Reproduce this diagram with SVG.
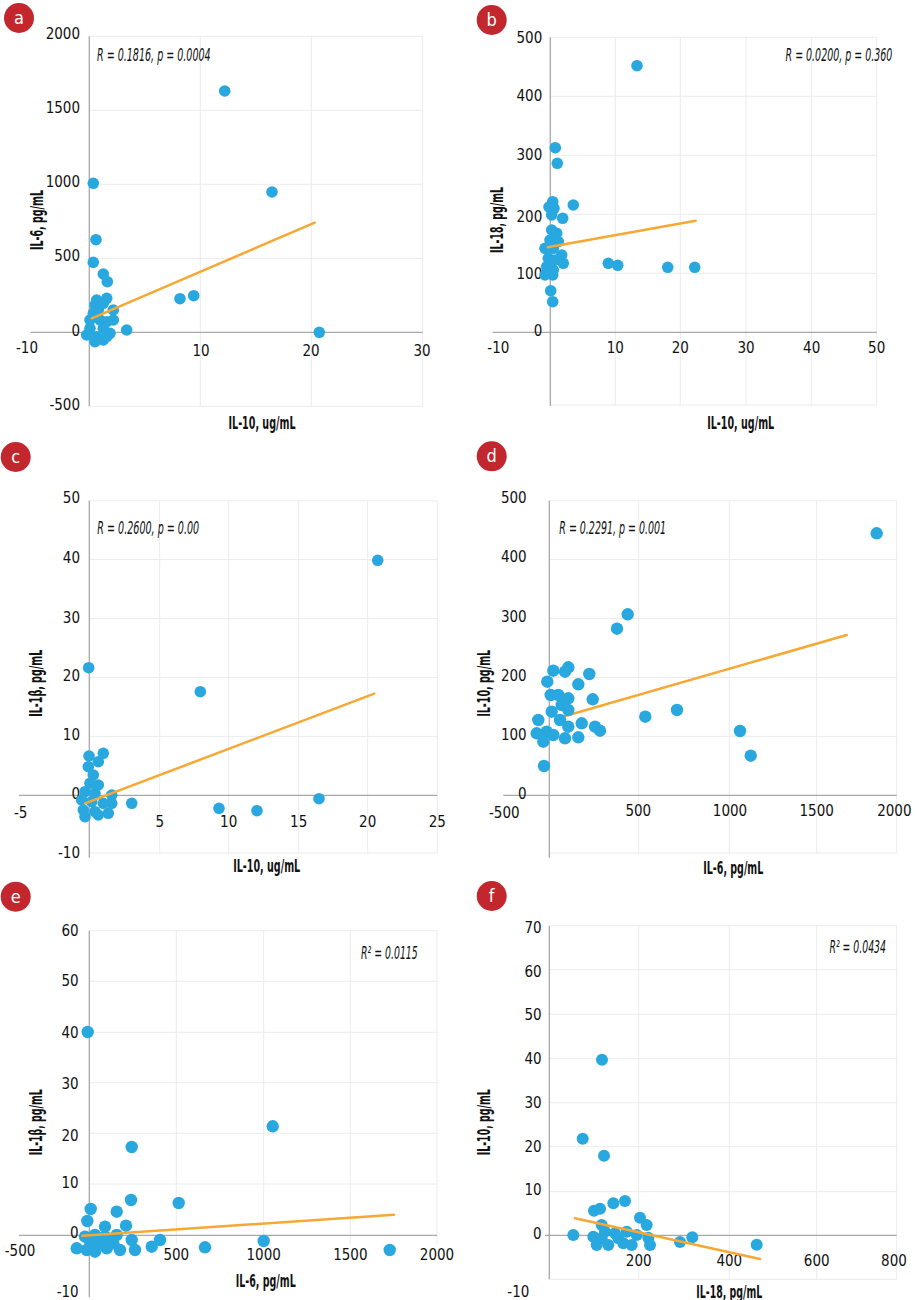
<svg xmlns="http://www.w3.org/2000/svg" width="919" height="1300" viewBox="0 0 919 1300">
<style>
text{font-family:'Liberation Sans Narrow','DejaVu Sans Condensed','Liberation Sans',sans-serif;fill:#111}
.ty{font-size:15px;text-anchor:end}
.tx{font-size:15px;text-anchor:middle}
.grid{stroke:#ececec;stroke-width:1;fill:none}
.axis{stroke:#a8a8a8;stroke-width:1.3;fill:none}
.trend{stroke:#F7A833;stroke-width:2.5;fill:none;stroke-linecap:round}
.dots circle{fill:#29A8E0}
.title{font-size:17px;font-weight:bold;text-anchor:middle}
.note{font-size:17px;font-style:italic}
.badge{fill:#C1272D}
.bl{fill:#fff;font-size:18px;text-anchor:middle}
</style>

<!-- Panel a -->
<g id="panel-a">
<circle class="badge" cx="19" cy="18" r="15"/><text class="bl" x="19" y="24">a</text>
<path class="grid" d="M89.3 36.3H422.7M89.3 110.3H422.7M89.3 184.3H422.7M89.3 258.3H422.7M89.3 406.3H422.7M200.3 36.3V406.3M311.3 36.3V406.3M422.7 36.3V406.3"/>
<path class="axis" d="M89.3 36.3V406.3M30.7 332.3H422.7"/>
<text class="ty" x="80" y="39">2000</text><text class="ty" x="80" y="113">1500</text><text class="ty" x="80" y="187">1000</text><text class="ty" x="80" y="261">500</text><text class="ty" x="80" y="336">0</text><text class="ty" x="80" y="410">-500</text>
<text class="tx" x="27" y="353">-10</text><text class="tx" x="201" y="356">10</text><text class="tx" x="311" y="356">20</text><text class="tx" x="422" y="356">30</text>
<text class="title" x="262" y="429" textLength="67" lengthAdjust="spacingAndGlyphs">IL-10, ug/mL</text>
<text class="title" transform="translate(37,220) rotate(-90)" x="0" y="5.5" textLength="60" lengthAdjust="spacingAndGlyphs">IL-6, pg/mL</text>
<text class="note" transform="translate(97,61) scale(0.625,1)">R = 0.1816, p = 0.0004</text>
<g class="dots">
<circle cx="224.7" cy="91" r="5.8"/><circle cx="93.3" cy="183.3" r="5.8"/><circle cx="272" cy="192" r="5.8"/><circle cx="96" cy="239.7" r="5.8"/><circle cx="93.3" cy="262.3" r="5.8"/><circle cx="103.3" cy="274" r="5.8"/><circle cx="107.3" cy="281.7" r="5.8"/><circle cx="180" cy="298.7" r="5.8"/><circle cx="193.7" cy="295.7" r="5.8"/><circle cx="96.7" cy="300" r="5.8"/><circle cx="106.7" cy="298.3" r="5.8"/><circle cx="95" cy="305" r="5.8"/><circle cx="113.3" cy="310" r="5.8"/><circle cx="98.3" cy="310" r="5.8"/><circle cx="103.3" cy="303.3" r="5.8"/><circle cx="93.3" cy="313.3" r="5.8"/><circle cx="90" cy="320" r="5.8"/><circle cx="100" cy="320" r="5.8"/><circle cx="106.7" cy="321.7" r="5.8"/><circle cx="113.3" cy="320" r="5.8"/><circle cx="90" cy="328.3" r="5.8"/><circle cx="103.3" cy="328.3" r="5.8"/><circle cx="126.7" cy="330" r="5.8"/><circle cx="86.7" cy="335" r="5.8"/><circle cx="96.7" cy="336.7" r="5.8"/><circle cx="106.7" cy="336.7" r="5.8"/><circle cx="90" cy="333.3" r="5.8"/><circle cx="110" cy="333.3" r="5.8"/><circle cx="95" cy="341.7" r="5.8"/><circle cx="103.3" cy="340" r="5.8"/><circle cx="319.3" cy="332.3" r="5.8"/>
</g>
<line class="trend" x1="91.7" y1="318.3" x2="314.7" y2="222.7"/>
</g>

<!-- Panel b -->
<g id="panel-b">
<circle class="badge" cx="491.7" cy="20" r="15"/><text class="bl" x="491.7" y="26">b</text>
<path class="grid" d="M550.3 37.3H876.7M550.3 96.3H876.7M550.3 155.3H876.7M550.3 214.3H876.7M550.3 273.3H876.7M550.3 405H876.7M615.3 37.3V405M680.3 37.3V405M746 37.3V405M811.7 37.3V405M876.7 37.3V405"/>
<path class="axis" d="M550.3 37.3V406M492.7 332.3H876.7"/>
<text class="ty" x="542.3" y="43.3">500</text><text class="ty" x="542.3" y="101">400</text><text class="ty" x="542.3" y="160">300</text><text class="ty" x="542.3" y="221.7">200</text><text class="ty" x="542.3" y="279.3">100</text><text class="ty" x="542.3" y="336">0</text>
<text class="tx" x="498.3" y="353.3">-10</text><text class="tx" x="615.3" y="353.3">10</text><text class="tx" x="680.3" y="353.3">20</text><text class="tx" x="746" y="353.3">30</text><text class="tx" x="811.7" y="353.3">40</text><text class="tx" x="876.7" y="353.3">50</text>
<text class="title" x="740.7" y="429" textLength="67" lengthAdjust="spacingAndGlyphs">IL-10, ug/mL</text>
<text class="title" transform="translate(497.3,220) rotate(-90)" x="0" y="5.5" textLength="66" lengthAdjust="spacingAndGlyphs">IL-18, pg/mL</text>
<text class="note" text-anchor="end" transform="translate(892.3,61) scale(0.62,1)">R = 0.0200, p = 0.360</text>
<g class="dots">
<circle cx="637" cy="65.7" r="5.8"/><circle cx="555.3" cy="147.7" r="5.8"/><circle cx="557.3" cy="163.3" r="5.8"/><circle cx="552.7" cy="201.7" r="5.8"/><circle cx="554" cy="208.3" r="5.8"/><circle cx="549" cy="207" r="5.8"/><circle cx="573.3" cy="205" r="5.8"/><circle cx="551.7" cy="215" r="5.8"/><circle cx="562.7" cy="218.3" r="5.8"/><circle cx="551.7" cy="230" r="5.8"/><circle cx="556.7" cy="233.3" r="5.8"/><circle cx="550" cy="240" r="5.8"/><circle cx="558.3" cy="241.7" r="5.8"/><circle cx="545" cy="248.3" r="5.8"/><circle cx="553.3" cy="248.3" r="5.8"/><circle cx="561.7" cy="255" r="5.8"/><circle cx="548.3" cy="258.3" r="5.8"/><circle cx="555" cy="260" r="5.8"/><circle cx="563.3" cy="263.3" r="5.8"/><circle cx="546.7" cy="266.7" r="5.8"/><circle cx="553.3" cy="270" r="5.8"/><circle cx="545" cy="275" r="5.8"/><circle cx="552.7" cy="275" r="5.8"/><circle cx="550.7" cy="290.7" r="5.8"/><circle cx="552.7" cy="301.7" r="5.8"/><circle cx="608.3" cy="263.3" r="5.8"/><circle cx="617.7" cy="265.3" r="5.8"/><circle cx="667.7" cy="267.3" r="5.8"/><circle cx="694.7" cy="267.3" r="5.8"/>
</g>
<line class="trend" x1="547.7" y1="247.3" x2="695.7" y2="220.7"/>
</g>

<!-- Panel c -->
<g id="panel-c">
<circle class="badge" cx="15.7" cy="457" r="15"/><text class="bl" x="15.7" y="463">c</text>
<path class="grid" d="M89.3 500.7H437.3M89.3 559.6H437.3M89.3 618.6H437.3M89.3 677.5H437.3M89.3 736.4H437.3M89.3 853H437.3M159.7 500.7V853M228.7 500.7V853M298.7 500.7V853M367.7 500.7V853M437.3 500.7V853"/>
<path class="axis" d="M89.3 500.7V857.7M19 795.3H437.3"/>
<text class="ty" x="80" y="503.3">50</text><text class="ty" x="80" y="562.7">40</text><text class="ty" x="80" y="622.7">30</text><text class="ty" x="80" y="680.7">20</text><text class="ty" x="80" y="740">10</text><text class="ty" x="80" y="799">0</text><text class="ty" x="80" y="857.7">-10</text>
<text class="tx" x="20.7" y="818.3">-5</text><text class="tx" x="159.7" y="827.3">5</text><text class="tx" x="228.7" y="827.3">10</text><text class="tx" x="298.7" y="827.3">15</text><text class="tx" x="367.7" y="827.3">20</text><text class="tx" x="437.3" y="827.3">25</text>
<text class="title" x="266.7" y="871.5" textLength="67" lengthAdjust="spacingAndGlyphs">IL-10, ug/mL</text>
<text class="title" transform="translate(36.7,683.3) rotate(-90)" x="0" y="5.5" textLength="67" lengthAdjust="spacingAndGlyphs">IL-1β, pg/mL</text>
<text class="note" transform="translate(97.3,534) scale(0.627,1)">R = 0.2600, p = 0.00</text>
<g class="dots">
<circle cx="377.7" cy="560.3" r="5.8"/><circle cx="88.7" cy="667.7" r="5.8"/><circle cx="200.3" cy="691.7" r="5.8"/><circle cx="103.3" cy="753.3" r="5.8"/><circle cx="89" cy="756" r="5.8"/><circle cx="98.3" cy="761.7" r="5.8"/><circle cx="88.3" cy="766.7" r="5.8"/><circle cx="93.3" cy="775" r="5.8"/><circle cx="90" cy="783.3" r="5.8"/><circle cx="98.3" cy="785" r="5.8"/><circle cx="85" cy="791.7" r="5.8"/><circle cx="95" cy="793.3" r="5.8"/><circle cx="111.7" cy="795" r="5.8"/><circle cx="81.7" cy="800" r="5.8"/><circle cx="91.7" cy="801.7" r="5.8"/><circle cx="103.3" cy="803.3" r="5.8"/><circle cx="111.7" cy="803.3" r="5.8"/><circle cx="131.7" cy="803.3" r="5.8"/><circle cx="83.3" cy="810" r="5.8"/><circle cx="95" cy="811.7" r="5.8"/><circle cx="108.3" cy="813.3" r="5.8"/><circle cx="85" cy="816.7" r="5.8"/><circle cx="98.3" cy="815" r="5.8"/><circle cx="219" cy="808.3" r="5.8"/><circle cx="257" cy="810.7" r="5.8"/><circle cx="319" cy="798.7" r="5.8"/>
</g>
<line class="trend" x1="85" y1="803.3" x2="374.3" y2="693.7"/>
</g>

<!-- Panel d -->
<g id="panel-d">
<circle class="badge" cx="491.7" cy="456.3" r="15"/><text class="bl" x="491.7" y="462.3">d</text>
<path class="grid" d="M549.3 500.7H896.7M549.3 559.6H896.7M549.3 618.6H896.7M549.3 677.5H896.7M549.3 736.4H896.7M549.3 853H896.7M638.7 500.7V853M729.3 500.7V853M816.7 500.7V853M896.7 500.7V853"/>
<path class="axis" d="M549.3 500.7V857.7M503.3 795.3H896.7"/>
<text class="ty" x="526.7" y="503.3">500</text><text class="ty" x="526.7" y="562">400</text><text class="ty" x="526.7" y="621.7">300</text><text class="ty" x="526.7" y="680.7">200</text><text class="ty" x="526.7" y="740">100</text><text class="ty" x="526.7" y="799">0</text>
<text class="tx" x="504.3" y="817.7">-500</text><text class="tx" x="638.3" y="815.7">500</text><text class="tx" x="730" y="815.7">1000</text><text class="tx" x="816.7" y="815.7">1500</text><text class="tx" x="894.3" y="815.7">2000</text>
<text class="title" x="733.3" y="873.5" textLength="60" lengthAdjust="spacingAndGlyphs">IL-6, pg/mL</text>
<text class="title" transform="translate(484,683.3) rotate(-90)" x="0" y="5.5" textLength="67" lengthAdjust="spacingAndGlyphs">IL-10, pg/mL</text>
<text class="note" transform="translate(559.3,534) scale(0.62,1)">R = 0.2291, p = 0.001</text>
<line class="trend" x1="560" y1="717.5" x2="846.7" y2="635"/>
<g class="dots">
<circle cx="876.7" cy="533.3" r="6.2"/><circle cx="627.7" cy="614.3" r="6.2"/><circle cx="617" cy="628.7" r="6.2"/><circle cx="553.3" cy="670.7" r="6.2"/><circle cx="568.3" cy="667.3" r="6.2"/><circle cx="565" cy="671.7" r="6.2"/><circle cx="589.3" cy="674" r="6.2"/><circle cx="547.3" cy="681.7" r="6.2"/><circle cx="578.3" cy="684.3" r="6.2"/><circle cx="550.7" cy="695" r="6.2"/><circle cx="558.3" cy="695" r="6.2"/><circle cx="568.3" cy="698.3" r="6.2"/><circle cx="592.7" cy="699.3" r="6.2"/><circle cx="561.7" cy="705" r="6.2"/><circle cx="568.3" cy="710" r="6.2"/><circle cx="551.7" cy="711.7" r="6.2"/><circle cx="538.3" cy="720" r="6.2"/><circle cx="560" cy="720" r="6.2"/><circle cx="581.7" cy="723.3" r="6.2"/><circle cx="595" cy="726.7" r="6.2"/><circle cx="600" cy="730.7" r="6.2"/><circle cx="568.3" cy="726.7" r="6.2"/><circle cx="536.7" cy="733.3" r="6.2"/><circle cx="546.7" cy="731.7" r="6.2"/><circle cx="553.3" cy="735" r="6.2"/><circle cx="565" cy="738.3" r="6.2"/><circle cx="578.3" cy="737.3" r="6.2"/><circle cx="543.3" cy="741.7" r="6.2"/><circle cx="544" cy="766" r="6.2"/><circle cx="645.3" cy="716.7" r="6.2"/><circle cx="677" cy="710" r="6.2"/><circle cx="740" cy="731" r="6.2"/><circle cx="750.7" cy="755.7" r="6.2"/>
</g>
</g>

<!-- Panel e -->
<g id="panel-e">
<circle class="badge" cx="15.7" cy="896.7" r="15"/><text class="bl" x="15.7" y="902.7">e</text>
<path class="grid" d="M89.3 930.7H437M89.3 981.3H437M89.3 1032.3H437M89.3 1082.7H437M89.3 1133.3H437M89.3 1184H437M176.3 930.7V1244M263.7 930.7V1244M350.3 930.7V1244M437 930.7V1244"/>
<path class="axis" d="M89.3 930.7V1297.3M19 1235.3H437"/>
<text class="ty" x="78.7" y="936">60</text><text class="ty" x="78.7" y="986">50</text><text class="ty" x="78.7" y="1037.7">40</text><text class="ty" x="78.7" y="1089.3">30</text><text class="ty" x="78.7" y="1140.7">20</text><text class="ty" x="78.7" y="1188.3">10</text><text class="ty" x="78.7" y="1238.3">0</text><text class="ty" x="78.7" y="1297">-10</text>
<text class="tx" x="20" y="1255.7">-500</text><text class="tx" x="176.3" y="1260">500</text><text class="tx" x="263.7" y="1260">1000</text><text class="tx" x="350.3" y="1260">1500</text><text class="tx" x="437" y="1260">2000</text>
<text class="title" x="265.7" y="1286.5" textLength="60" lengthAdjust="spacingAndGlyphs">IL-6, pg/mL</text>
<text class="title" transform="translate(36.7,1122.3) rotate(-90)" x="0" y="5.5" textLength="66" lengthAdjust="spacingAndGlyphs">IL-1β, pg/mL</text>
<text class="note" text-anchor="end" transform="translate(417.7,959) scale(0.61,1)">R² = 0.0115</text>
<g class="dots">
<circle cx="87.7" cy="1032" r="6.2"/><circle cx="272.7" cy="1126.3" r="6.2"/><circle cx="131.7" cy="1147" r="6.2"/><circle cx="131" cy="1200" r="6.2"/><circle cx="178.7" cy="1203" r="6.2"/><circle cx="90.7" cy="1209" r="6.2"/><circle cx="116.7" cy="1211.7" r="6.2"/><circle cx="87.3" cy="1221" r="6.2"/><circle cx="105" cy="1226.7" r="6.2"/><circle cx="126" cy="1225.7" r="6.2"/><circle cx="85" cy="1236.7" r="6.2"/><circle cx="95" cy="1235" r="6.2"/><circle cx="105" cy="1236.7" r="6.2"/><circle cx="116.7" cy="1235" r="6.2"/><circle cx="131.7" cy="1240" r="6.2"/><circle cx="160" cy="1240" r="6.2"/><circle cx="76.7" cy="1248.3" r="6.2"/><circle cx="86.7" cy="1250" r="6.2"/><circle cx="95" cy="1251.7" r="6.2"/><circle cx="106.7" cy="1248.3" r="6.2"/><circle cx="120" cy="1250" r="6.2"/><circle cx="135" cy="1250" r="6.2"/><circle cx="151.7" cy="1246.7" r="6.2"/><circle cx="100" cy="1243.3" r="6.2"/><circle cx="113.3" cy="1243.3" r="6.2"/><circle cx="90" cy="1241.7" r="6.2"/><circle cx="263.7" cy="1241" r="6.2"/><circle cx="205" cy="1247.3" r="6.2"/><circle cx="389.7" cy="1250" r="6.2"/>
</g>
<line class="trend" x1="82.3" y1="1235.7" x2="394" y2="1214.7"/>
</g>

<!-- Panel f -->
<g id="panel-f">
<circle class="badge" cx="491.7" cy="896" r="15"/><text class="bl" x="491.7" y="902">f</text>
<path class="grid" d="M549.3 925.7H896.7M549.3 969.7H896.7M549.3 1014.3H896.7M549.3 1058.7H896.7M549.3 1102.7H896.7M549.3 1146.7H896.7M549.3 1191.7H896.7M549.3 1279.3H896.7M638.7 925.7V1279.3M729.3 925.7V1279.3M816.7 925.7V1279.3M896.7 925.7V1279.3"/>
<path class="axis" d="M549.3 925.7V1279.3M545 1235.3H896.7"/>
<text class="ty" x="541.7" y="933.3">70</text><text class="ty" x="541.7" y="976.7">60</text><text class="ty" x="541.7" y="1020">50</text><text class="ty" x="541.7" y="1064">40</text><text class="ty" x="541.7" y="1107.7">30</text><text class="ty" x="541.7" y="1151.7">20</text><text class="ty" x="541.7" y="1195">10</text><text class="ty" x="541.7" y="1239">0</text>
<text class="tx" x="518.3" y="1297.3">-10</text><text class="tx" x="638.7" y="1265.7">200</text><text class="tx" x="729.3" y="1265.7">400</text><text class="tx" x="816.7" y="1265.7">600</text><text class="tx" x="894" y="1265.7">800</text>
<text class="title" x="729.3" y="1297.5" textLength="66" lengthAdjust="spacingAndGlyphs">IL-18, pg/mL</text>
<text class="title" transform="translate(484,1122.3) rotate(-90)" x="0" y="5.5" textLength="66" lengthAdjust="spacingAndGlyphs">IL-10, pg/mL</text>
<text class="note" text-anchor="end" transform="translate(886,953) scale(0.61,1)">R² = 0.0434</text>
<g class="dots">
<circle cx="602" cy="1059.7" r="6"/><circle cx="582.7" cy="1138.7" r="6"/><circle cx="604" cy="1155.7" r="6"/><circle cx="594" cy="1210.7" r="6"/><circle cx="600" cy="1208.7" r="6"/><circle cx="613.3" cy="1203.3" r="6"/><circle cx="625" cy="1201" r="6"/><circle cx="640" cy="1217.7" r="6"/><circle cx="646.7" cy="1225" r="6"/><circle cx="601.7" cy="1225" r="6"/><circle cx="573.3" cy="1235" r="6"/><circle cx="593.3" cy="1236.7" r="6"/><circle cx="605" cy="1231.7" r="6"/><circle cx="615" cy="1233.3" r="6"/><circle cx="626.7" cy="1231.7" r="6"/><circle cx="636.7" cy="1235" r="6"/><circle cx="648.3" cy="1237.7" r="6"/><circle cx="650" cy="1245" r="6"/><circle cx="596.7" cy="1245" r="6"/><circle cx="608.3" cy="1245" r="6"/><circle cx="623.3" cy="1243.3" r="6"/><circle cx="631.7" cy="1245" r="6"/><circle cx="601.7" cy="1238.3" r="6"/><circle cx="618.3" cy="1238.3" r="6"/><circle cx="680" cy="1242" r="6"/><circle cx="692.3" cy="1237.3" r="6"/><circle cx="756.7" cy="1244.7" r="6"/>
</g>
<line class="trend" x1="575" y1="1218.3" x2="760" y2="1259"/>
</g>
</svg>
